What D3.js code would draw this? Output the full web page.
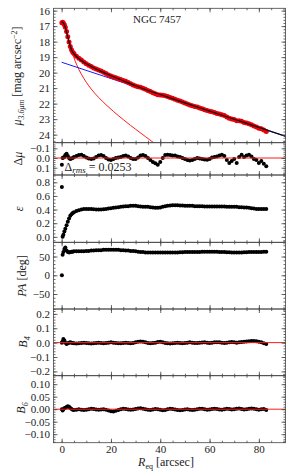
<!DOCTYPE html>
<html>
<head>
<meta charset="utf-8">
<script src="https://cdn.jsdelivr.net/npm/d3@7"></script>
<style>
body { margin: 0; background: #fff; }
text { font-family: "Liberation Serif", "DejaVu Serif", serif; fill: #222; }
</style>
</head>
<body>
<div id="chart"></div>
<script>
// isophote radii (arcsec), shared by all panels
var radius = [0.1, 0.4, 0.7, 1.1, 1.5, 2, 2.5, 3, 3.5, 4, 4.5,
  5, 6, 7, 8, 9, 10, 11, 12, 13, 14, 15, 16, 17, 18, 19, 20, 21, 22, 23, 24,
  25, 26, 27, 28, 29, 30, 31, 32, 33, 34, 35, 36, 37, 38, 39, 40, 41, 42, 43, 44,
  45, 46, 47, 48, 49, 50, 51, 52, 53, 54, 55, 56, 57, 58, 59, 60, 61, 62, 63, 64,
  65, 66, 67, 68, 69, 70, 71, 72, 73, 74, 75, 76, 77, 78, 79, 80, 81, 82, 83];

var muObs = [16.79, 16.75, 16.80, 16.91, 17.07, 17.34, 17.68, 18.02, 18.31, 18.53, 18.68,
  18.77, 18.94, 19.07, 19.19, 19.31, 19.43, 19.53, 19.61, 19.70, 19.76,
  19.83, 19.89, 19.97, 20.06, 20.15, 20.22, 20.28, 20.33, 20.40, 20.45,
  20.50, 20.56, 20.64, 20.72, 20.80, 20.86, 20.91, 20.95, 21.00, 21.07,
  21.15, 21.22, 21.30, 21.37, 21.43, 21.45, 21.46, 21.49, 21.54, 21.60,
  21.66, 21.71, 21.78, 21.83, 21.90, 21.96, 22.02, 22.09, 22.13, 22.18,
  22.22, 22.28, 22.33, 22.39, 22.45, 22.49, 22.53, 22.57, 22.63, 22.67,
  22.71, 22.77, 22.87, 22.95, 22.99, 23.02, 23.11, 23.10, 23.14, 23.21,
  23.25, 23.29, 23.37, 23.44, 23.50, 23.58, 23.62, 23.70, 23.80];

var dMu = [0.07, 0.0, -0.005, -0.01, -0.03, -0.045, -0.02, 0.0, 0.01, 0.005, 0.0,
  -0.01, -0.02, -0.03, -0.034, -0.02, -0.005, 0.005, 0.01, 0.005, -0.01,
  -0.025, -0.03, -0.02, 0.0, 0.015, 0.02, 0.01, 0.0, -0.005, -0.01,
  -0.02, -0.025, -0.015, 0.0, 0.01, 0.01, -0.005, -0.025, -0.03, -0.02,
  0.0, 0.02, 0.04, 0.055, 0.07, 0.04, 0.0, -0.03, -0.035, -0.03,
  -0.025, -0.025, -0.015, -0.01, 0.0, 0.01, 0.02, 0.025, 0.02, 0.01,
  0.0, 0.005, 0.01, 0.015, 0.017, 0.01, -0.005, -0.01, -0.015, -0.025,
  -0.035, -0.02, 0.02, 0.05, 0.03, 0.01, 0.05, -0.01, -0.035, -0.01,
  -0.025, -0.035, -0.015, 0.01, 0.02, 0.05, 0.03, 0.06, 0.085];

var ellip = [0.73, 0.0, 0.03, 0.08, 0.12, 0.17, 0.22, 0.27, 0.31, 0.33, 0.35,
  0.36, 0.38, 0.39, 0.40, 0.41, 0.41, 0.41, 0.41, 0.405, 0.40,
  0.40, 0.40, 0.405, 0.41, 0.415, 0.42, 0.425, 0.43, 0.435, 0.44,
  0.445, 0.45, 0.45, 0.455, 0.455, 0.455, 0.45, 0.445, 0.44, 0.44,
  0.44, 0.435, 0.43, 0.425, 0.425, 0.43, 0.44, 0.45, 0.455, 0.46,
  0.465, 0.465, 0.465, 0.46, 0.46, 0.455, 0.455, 0.455, 0.455, 0.45,
  0.45, 0.45, 0.45, 0.445, 0.445, 0.445, 0.445, 0.445, 0.445, 0.445,
  0.445, 0.445, 0.44, 0.44, 0.44, 0.44, 0.44, 0.435, 0.435, 0.43,
  0.43, 0.425, 0.42, 0.415, 0.41, 0.41, 0.41, 0.41, 0.41];

var posAngle = [0, 55, 62, 70, 74, 66, 62, 61, 62, 63, 63,
  64, 64, 64, 64, 64, 65, 65, 66, 66, 67,
  67, 67, 68, 68, 68, 68, 68, 68, 68, 67,
  67, 66, 66, 65, 65, 64, 63, 62, 62, 61,
  61, 61, 61, 61, 61, 61, 61, 61, 61, 61,
  61, 61, 61, 61.5, 61.5, 62, 62, 62, 62, 62,
  62, 62, 62.5, 62.5, 63, 63, 63, 62.5, 62.5, 62,
  62, 62, 61.5, 61.5, 61, 61, 61, 61, 61, 61.5,
  61.5, 62, 62, 62, 62, 62, 62, 62.5, 63];

var b4 = [0.0, 0.01, 0.025, 0.015, 0.0, -0.01, -0.005, 0.0, 0.003, 0.0, -0.003,
  -0.005, -0.006, -0.004, -0.002, 0.0, -0.003, -0.005, -0.006, -0.004, -0.002,
  0.0, -0.002, -0.004, -0.003, 0.0, 0.002, 0.0, -0.003, -0.005, -0.004,
  -0.002, 0.0, -0.002, -0.004, -0.002, 0.002, 0.006, 0.008, 0.006, 0.002,
  -0.002, -0.004, -0.003, 0.0, 0.004, 0.006, 0.003, -0.002, -0.005, -0.006,
  -0.004, -0.002, 0.0, -0.002, -0.004, -0.003, 0.0, 0.002, 0.0, -0.002,
  -0.003, -0.001, 0.001, 0.002, 0.0, -0.002, 0.0, 0.002, 0.003, 0.002,
  0.0, -0.002, 0.0, 0.003, 0.004, 0.002, 0.0, 0.002, 0.004, 0.006,
  0.008, 0.01, 0.012, 0.012, 0.01, 0.006, 0.003, -0.004, -0.01];

var b6 = [0.0, -0.005, 0.0, 0.004, 0.006, 0.009, 0.012, 0.01, 0.005, 0.001, -0.002,
  -0.003, -0.002, 0.0, -0.002, -0.003, -0.002, 0.0, 0.002, 0.001, -0.001,
  -0.002, -0.001, 0.0, -0.002, -0.005, -0.008, -0.009, -0.006, -0.003, 0.0,
  0.002, 0.001, -0.001, -0.002, -0.001, 0.001, 0.003, 0.004, 0.002, 0.0,
  -0.002, -0.003, -0.001, 0.001, 0.0, -0.002, -0.004, -0.003, 0.0, 0.002,
  0.001, -0.001, -0.003, -0.004, -0.003, -0.001, 0.0, -0.002, -0.003, -0.002,
  0.0, 0.002, 0.002, 0.0, -0.002, -0.001, 0.001, 0.002, 0.001, -0.001,
  -0.002, 0.0, 0.002, 0.001, -0.001, 0.0, 0.002, 0.003, 0.001, -0.001,
  0.0, 0.002, 0.003, 0.002, 0.0, -0.002, 0.0, 0.001, -0.003];

// fitted components
var bulgeR = [0, 0.5, 1, 1.5, 2, 2.5, 3, 3.5, 4, 5, 6, 7, 8, 10, 12, 15, 18, 21, 25, 28, 30, 34, 38];
var bulgeMu = [16.68, 16.74, 16.9, 17.13, 17.42, 17.74, 18.05, 18.34, 18.6, 19.05, 19.45, 19.8, 20.1,
  20.62, 21.06, 21.6, 22.07, 22.5, 23.03, 23.41, 23.65, 24.13, 24.6];
var diskR = [0, 91];
var diskMu = [19.33, 24.12];
var modelR = [0, 0.5, 1, 1.5, 2, 2.5, 3, 3.5, 4, 4.5, 5, 6, 7, 8, 9, 10, 12, 14, 16, 18, 20,
  25, 30, 35, 40, 50, 60, 70, 80, 91];
var modelMu = [16.72, 16.76, 16.88, 17.1, 17.38, 17.7, 18.02, 18.3, 18.52, 18.67, 18.78, 18.96,
  19.1, 19.22, 19.33, 19.43, 19.6, 19.77, 19.92, 20.06, 20.2, 20.52, 20.85, 21.15, 21.41,
  21.95, 22.48, 23.01, 23.53, 24.11];

// tick labels
var xTicks = [0, 20, 40, 60, 80];
var muTicks = [16, 17, 18, 19, 20, 21, 22, 23, 24];
var dMuTicks = [-0.1, 0.0, 0.1];
var ellipTicks = [0.0, 0.2, 0.4, 0.6, 0.8];
var paTicks = [-50, 0, 50];
var b4Ticks = [-0.2, -0.1, 0.0, 0.1, 0.2];
var b6Ticks = [-0.10, -0.05, 0.00, 0.05, 0.10];

var galaxyName = "NGC 7457";
var rmsValue = "0.0253";

var svgWidth = 293;
var svgHeight = 471;
var left = 53.5, right = 285.5;

var svg = d3.select("#chart")
  .append("svg")
  .attr("width", svgWidth)
  .attr("height", svgHeight);

var x = d3.scaleLinear().domain([-3.3, 90.8]).range([left, right]);

var panels = [
  { key: "mu", top: 8.3, bottom: 142.7, domain: [15.85, 24.52], down: true, ticks: muTicks, minor: 0.2, fmt: d3.format("d"), values: muObs },
  { key: "dmu", top: 142.7, bottom: 175, domain: [-0.158, 0.175], down: true, ticks: dMuTicks, minor: 0.02, fmt: d3.format(".1f"), values: dMu, zero: true },
  { key: "ell", top: 175, bottom: 242.3, domain: [-0.08, 0.907], ticks: ellipTicks, minor: 0.05, fmt: d3.format(".1f"), values: ellip },
  { key: "pa", top: 242.3, bottom: 309, domain: [-90, 88], ticks: paTicks, minor: 10, fmt: d3.format("d"), values: posAngle },
  { key: "b4", top: 309, bottom: 375.7, domain: [-0.23, 0.234], ticks: b4Ticks, minor: 0.02, fmt: d3.format(".1f"), values: b4, zero: true },
  { key: "b6", top: 375.7, bottom: 442.7, domain: [-0.134, 0.134], ticks: b6Ticks, minor: 0.01, fmt: d3.format(".2f"), values: b6, zero: true }
];

function minorTicks(domain, step) {
  var lo = Math.min(domain[0], domain[1]), hi = Math.max(domain[0], domain[1]);
  return d3.range(Math.ceil(lo / step - 1e-6), Math.floor(hi / step + 1e-6) + 1).map(k => +(k * step).toFixed(4));
}

var xMinor = minorTicks(x.domain(), 5);

function styleAxis(g) {
  g.select(".domain").remove();
  g.attr("font-family", null).attr("font-size", 11);
  g.selectAll("line").attr("stroke", "#444").attr("stroke-width", 0.8);
  g.selectAll("text").attr("fill", "#222");
}

panels.forEach(function(p, i) {
  var y = d3.scaleLinear().domain(p.domain)
    .range(p.down ? [p.top, p.bottom] : [p.bottom, p.top]);
  var g = svg.append("g").attr("class", "panel-" + p.key);
  var last = i === panels.length - 1;
  var yMinor = minorTicks(p.domain, p.minor);

  var clipId = "clip-" + p.key;
  svg.append("clipPath").attr("id", clipId)
    .append("rect")
    .attr("x", left).attr("y", p.top)
    .attr("width", right - left).attr("height", p.bottom - p.top);

  var plot = g.append("g").attr("clip-path", "url(#" + clipId + ")");

  if (p.key === "mu") {
    var line = d3.line().x(d => x(d[0])).y(d => y(d[1])).curve(d3.curveMonotoneX);
    plot.append("path")
      .datum(bulgeR.map((r, k) => [r, bulgeMu[k]]))
      .attr("d", line).attr("fill", "none").attr("stroke", "#f00").attr("stroke-width", 0.9);
    plot.append("path")
      .datum(diskR.map((r, k) => [r, diskMu[k]]))
      .attr("d", line).attr("fill", "none").attr("stroke", "#1a1aff").attr("stroke-width", 1);
    plot.selectAll("circle")
      .data(radius)
      .enter()
      .append("circle")
      .attr("cx", d => x(d))
      .attr("cy", (d, k) => y(muObs[k]))
      .attr("r", 2.5)
      .attr("fill", "#e8000b");
    plot.append("path")
      .datum(modelR.map((r, k) => [r, modelMu[k]]))
      .attr("d", line).attr("fill", "none").attr("stroke", "#000").attr("stroke-width", 1.2)
      .attr("stroke-opacity", 0.9);
  } else {
    plot.selectAll("circle")
      .data(radius)
      .enter()
      .append("circle")
      .attr("cx", d => x(d))
      .attr("cy", (d, k) => y(p.values[k]))
      .attr("r", 2)
      .attr("fill", "#000");
    if (p.zero) {
      plot.append("line")
        .attr("x1", left).attr("x2", right)
        .attr("y1", y(0)).attr("y2", y(0))
        .attr("stroke", "#ff1a1a").attr("stroke-width", 1);
    }
  }

  // frame
  g.append("rect")
    .attr("x", left).attr("y", p.top)
    .attr("width", right - left).attr("height", p.bottom - p.top)
    .attr("fill", "none").attr("stroke", "#444").attr("stroke-width", 0.8);

  // x ticks, bottom and top, pointing inward
  g.append("g").attr("transform", `translate(0, ${p.bottom})`)
    .call(d3.axisBottom(x).tickValues(xTicks).tickSize(-4).tickPadding(3)
      .tickFormat(last ? d3.format("d") : ""))
    .call(styleAxis);
  g.append("g").attr("transform", `translate(0, ${p.bottom})`)
    .call(d3.axisBottom(x).tickValues(xMinor).tickSize(-2).tickFormat(""))
    .call(styleAxis);
  g.append("g").attr("transform", `translate(0, ${p.top})`)
    .call(d3.axisTop(x).tickValues(xTicks).tickSize(-4).tickFormat(""))
    .call(styleAxis);
  g.append("g").attr("transform", `translate(0, ${p.top})`)
    .call(d3.axisTop(x).tickValues(xMinor).tickSize(-2).tickFormat(""))
    .call(styleAxis);

  // y ticks, left with labels, right without
  g.append("g").attr("transform", `translate(${left}, 0)`)
    .call(d3.axisLeft(y).tickValues(p.ticks).tickSize(-4).tickPadding(3.5).tickFormat(p.fmt))
    .call(styleAxis);
  g.append("g").attr("transform", `translate(${left}, 0)`)
    .call(d3.axisLeft(y).tickValues(yMinor).tickSize(-2).tickFormat(""))
    .call(styleAxis);
  g.append("g").attr("transform", `translate(${right}, 0)`)
    .call(d3.axisRight(y).tickValues(p.ticks).tickSize(-4).tickFormat(""))
    .call(styleAxis);
  g.append("g").attr("transform", `translate(${right}, 0)`)
    .call(d3.axisRight(y).tickValues(yMinor).tickSize(-2).tickFormat(""))
    .call(styleAxis);
});

// y-axis titles
function yTitle(cx, cy, parts) {
  var t = svg.append("text")
    .attr("transform", `translate(${cx}, ${cy}) rotate(-90)`)
    .attr("text-anchor", "middle")
    .attr("font-size", 12);
  parts.forEach(function(s) {
    var ts = t.append("tspan").text(s.t);
    if (s.i) ts.attr("font-style", "italic");
    if (s.fs) ts.attr("font-size", s.fs);
    if (s.dy) ts.attr("dy", s.dy);
  });
  return t;
}

yTitle(21, 76, [
  { t: "μ", i: true },
  { t: "3.6μm", i: true, fs: 8, dy: 3 },
  { t: " [mag arcsec", dy: -3 },
  { t: "−2", fs: 8, dy: -4.5 },
  { t: "]", dy: 4.5 }
]);
yTitle(22, 158.5, [{ t: "Δ" }, { t: "μ", i: true }]);
yTitle(23, 209, [{ t: "ε", i: true }]);
yTitle(25.5, 276, [{ t: "PA", i: true }, { t: " [deg]" }]);
yTitle(27, 342, [{ t: "B", i: true }, { t: "4", i: true, fs: 8, dy: 3 }]);
yTitle(24.5, 408, [{ t: "B", i: true }, { t: "6", i: true, fs: 8, dy: 3 }]);

// x-axis title
var xt = svg.append("text")
  .attr("x", 166).attr("y", 466)
  .attr("text-anchor", "middle")
  .attr("font-size", 12);
xt.append("tspan").attr("font-style", "italic").text("R");
xt.append("tspan").attr("font-size", 8).attr("dy", 3).text("eq");
xt.append("tspan").attr("dy", -3).text(" [arcsec]");

// annotations
svg.append("text")
  .attr("x", 133).attr("y", 23)
  .attr("font-size", 11)
  .text(galaxyName);

var rt = svg.append("text")
  .attr("x", 64.5).attr("y", 171)
  .attr("font-size", 12);
rt.append("tspan").text("Δ");
rt.append("tspan").attr("font-style", "italic").attr("font-size", 9).attr("dy", 2).text("rms");
rt.append("tspan").attr("dy", -2).text(" = " + rmsValue);
</script>
</body>
</html>
